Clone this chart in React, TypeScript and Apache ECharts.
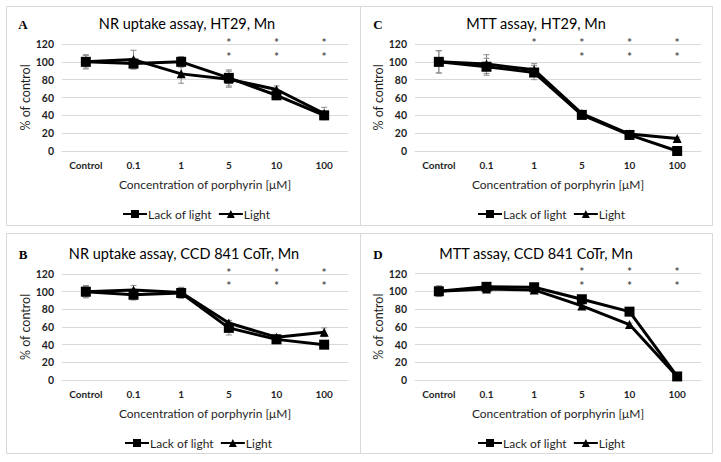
import React, { useEffect, useRef } from "react";
import * as echarts from "echarts";

const categories = ["Control", "0.1", "1", "5", "10", "100"];
const seriesNames = ["Lack of light", "Light"];
const xAxisName = "Concentration of porphyrin [μM]";
const yAxisName = "% of control";
const yTicks = [0, 20, 40, 60, 80, 100, 120];

// Panel A: NR uptake assay, HT29, Mn
const aLack = [100, 98, 100, 82, 62.5, 40];
const aLackErr = [8, 6, 6, 9, 5, 2.5];
const aLight = [100, 102.5, 86.5, 80.5, 69, 42];
const aLightErr = [7, 10.5, 10.5, 9, 4, 7];
const aStarsTop = ["5", "10", "100"];
const aStarsBottom = ["5", "10", "100"];

// Panel C: MTT assay, HT29, Mn
const cLack = [100, 94.5, 88, 40.5, 18, 0];
const cLackErr = [12.5, 9.5, 8, 2, 1, 0.5];
const cLight = [100, 97.5, 91, 42, 19, 14];
const cLightErr = [12.5, 10.5, 7, 2, 1, 1.5];
const cStarsTop = ["1", "5", "10", "100"];
const cStarsBottom = ["5", "10", "100"];

// Panel B: NR uptake assay, CCD 841 CoTr, Mn
const bLack = [100, 96.5, 98.5, 59, 46, 40];
const bLackErr = [7, 6, 6, 8, 4.5, 1];
const bLight = [100, 102, 99, 64.5, 48.5, 54];
const bLightErr = [6, 5, 6, 3, 3, 5];
const bStarsTop = ["5", "10", "100"];
const bStarsBottom = ["5", "10", "100"];

// Panel D: MTT assay, CCD 841 CoTr, Mn
const dLack = [100, 105, 104.5, 91, 77, 4];
const dLackErr = [6, 1.5, 1.5, 2, 4, 1];
const dLight = [100, 102.5, 101.5, 83.5, 62.5, 4];
const dLightErr = [6, 1.5, 1.5, 1, 1.5, 1];
const dStarsTop = ["5", "10", "100"];
const dStarsBottom = ["5", "10", "100"];

const starTopValue = 122;
const starBottomValue = 106.5;

const FONT = 'Lato, "Open Sans", "Noto Sans", sans-serif';
const TEXT = "#1f1f1f";

type Panel = {
  letter: string;
  title: string;
  lack: number[];
  lackErr: number[];
  light: number[];
  lightErr: number[];
  starsTop: string[];
  starsBottom: string[];
  box: [number, number, number, number];
  grid: { left: number; top: number; width: number; height: number };
  titleX: number;
  titleY: number;
  letterX: number;
  legendLeft: number;
  legendTop: number;
};

const panels: Panel[] = [
  {
    letter: "A", title: "NR uptake assay, HT29, Mn",
    lack: aLack, lackErr: aLackErr, light: aLight, lightErr: aLightErr,
    starsTop: aStarsTop, starsBottom: aStarsBottom,
    box: [6, 6, 354, 219],
    grid: { left: 62, top: 44, width: 286, height: 107 },
    titleX: 187, titleY: 23, letterX: 23, legendLeft: 117, legendTop: 203,
  },
  {
    letter: "C", title: "MTT assay, HT29, Mn",
    lack: cLack, lackErr: cLackErr, light: cLight, lightErr: cLightErr,
    starsTop: cStarsTop, starsBottom: cStarsBottom,
    box: [360, 6, 352, 219],
    grid: { left: 415, top: 44, width: 286, height: 107 },
    titleX: 536, titleY: 23, letterX: 378, legendLeft: 472, legendTop: 203,
  },
  {
    letter: "B", title: "NR uptake assay, CCD 841 CoTr, Mn",
    lack: bLack, lackErr: bLackErr, light: bLight, lightErr: bLightErr,
    starsTop: bStarsTop, starsBottom: bStarsBottom,
    box: [6, 233, 354, 220],
    grid: { left: 62, top: 274, width: 286, height: 106 },
    titleX: 184, titleY: 253, letterX: 23, legendLeft: 119, legendTop: 432,
  },
  {
    letter: "D", title: "MTT assay, CCD 841 CoTr, Mn",
    lack: dLack, lackErr: dLackErr, light: dLight, lightErr: dLightErr,
    starsTop: dStarsTop, starsBottom: dStarsBottom,
    box: [360, 233, 352, 220],
    grid: { left: 415, top: 273.5, width: 286, height: 106.5 },
    titleX: 536, titleY: 253, letterX: 378, legendLeft: 472, legendTop: 432,
  },
];

function errorRenderItem(params: any, api: any) {
  const x = api.value(0);
  const lo = api.coord([x, api.value(1)]);
  const hi = api.coord([x, api.value(2)]);
  const half = 3;
  const style = { stroke: "#8c8c8c", lineWidth: 1 };
  return {
    type: "group",
    children: [
      { type: "line", shape: { x1: lo[0], y1: lo[1], x2: hi[0], y2: hi[1] }, style },
      { type: "line", shape: { x1: hi[0] - half, y1: hi[1], x2: hi[0] + half, y2: hi[1] }, style },
      { type: "line", shape: { x1: lo[0] - half, y1: lo[1], x2: lo[0] + half, y2: lo[1] }, style },
    ],
  };
}

function buildOption() {
  const grid: any[] = [];
  const xAxis: any[] = [];
  const yAxis: any[] = [];
  const series: any[] = [];
  const legend: any[] = [];
  const graphic: any[] = [];

  panels.forEach((p, i) => {
    grid.push({ ...p.grid, containLabel: false });
    xAxis.push({
      type: "category",
      gridIndex: i,
      data: categories,
      boundaryGap: true,
      axisLine: { show: true, lineStyle: { color: "#d9d9d9", width: 1 } },
      axisTick: { show: false },
      axisLabel: { fontFamily: FONT, fontSize: 10, fontWeight: "bold", color: TEXT, margin: 9 },
      name: xAxisName,
      nameLocation: "middle",
      nameGap: 27,
      nameTextStyle: { fontFamily: FONT, fontSize: 12, color: TEXT },
      splitLine: { show: false },
    });
    yAxis.push({
      type: "value",
      gridIndex: i,
      min: yTicks[0],
      max: yTicks[yTicks.length - 1],
      interval: 20,
      axisLine: { show: false },
      axisTick: { show: false },
      axisLabel: { fontFamily: FONT, fontSize: 10.5, fontWeight: "bold", color: TEXT, margin: 8 },
      splitLine: { lineStyle: { color: "#d9d9d9", width: 1 } },
      name: yAxisName,
      nameLocation: "middle",
      nameGap: 28,
      nameTextStyle: { fontFamily: FONT, fontSize: 12.5, color: TEXT },
    });

    const errData = (vals: number[], errs: number[]) =>
      vals.map((v, k) => [k, v - errs[k], v + errs[k]]);

    series.push({
      type: "custom",
      name: "err-lack-" + i,
      xAxisIndex: i,
      yAxisIndex: i,
      renderItem: errorRenderItem,
      data: errData(p.lack, p.lackErr),
      encode: { x: 0, y: [1, 2] },
      z: 1,
      silent: true,
    });
    series.push({
      type: "custom",
      name: "err-light-" + i,
      xAxisIndex: i,
      yAxisIndex: i,
      renderItem: errorRenderItem,
      data: errData(p.light, p.lightErr),
      encode: { x: 0, y: [1, 2] },
      z: 1,
      silent: true,
    });
    series.push({
      type: "line",
      name: seriesNames[0],
      xAxisIndex: i,
      yAxisIndex: i,
      data: p.lack,
      symbol: "rect",
      symbolSize: 10,
      lineStyle: { color: "#000", width: 3 },
      itemStyle: { color: "#000" },
      z: 3,
    });
    series.push({
      type: "line",
      name: seriesNames[1],
      xAxisIndex: i,
      yAxisIndex: i,
      data: p.light,
      symbol: "triangle",
      symbolSize: 9,
      lineStyle: { color: "#000", width: 3 },
      itemStyle: { color: "#000" },
      z: 3,
    });
    const starData = [
      ...p.starsTop.map((c) => [c, starTopValue]),
      ...p.starsBottom.map((c) => [c, starBottomValue]),
    ];
    series.push({
      type: "scatter",
      name: "stars-" + i,
      xAxisIndex: i,
      yAxisIndex: i,
      data: starData,
      symbolSize: 6,
      itemStyle: { color: "rgba(0,0,0,0)" },
      clip: false,
      silent: true,
      label: {
        show: true,
        position: "inside",
        formatter: "*",
        fontFamily: FONT,
        fontSize: 12,
        fontWeight: "bold",
        color: "#1a1a1a",
      },
      z: 4,
    });

    legend.push({
      data: seriesNames,
      left: p.legendLeft,
      top: p.legendTop,
      itemWidth: 24,
      itemHeight: 10,
      itemGap: 6,
      textStyle: { fontFamily: FONT, fontSize: 12, color: TEXT, padding: [0, 0, 0, -4] },
      selectedMode: false,
    });

    graphic.push({
      type: "rect",
      shape: { x: p.box[0] + 0.5, y: p.box[1] + 0.5, width: p.box[2], height: p.box[3] },
      style: { fill: "none", stroke: "#d9d9d9", lineWidth: 1 },
      silent: true,
      z: -1,
    });
    graphic.push({
      type: "text",
      x: p.titleX,
      y: p.titleY,
      style: {
        text: p.title,
        fontFamily: FONT,
        fontSize: 14.5,
        fill: "#000",
        align: "center",
        verticalAlign: "middle",
      },
      silent: true,
    });
    graphic.push({
      type: "text",
      x: p.letterX,
      y: p.titleY + 1,
      style: {
        text: p.letter,
        fontFamily: '"Liberation Serif", "DejaVu Serif", serif',
        fontSize: 13,
        fontWeight: "bold",
        fill: "#000",
        align: "center",
        verticalAlign: "middle",
      },
      silent: true,
    });
  });

  return {
    animation: false,
    backgroundColor: "#ffffff",
    grid,
    xAxis,
    yAxis,
    legend,
    series,
    graphic,
  };
}

export default function App() {
  const ref = useRef<HTMLDivElement>(null);
  useEffect(() => {
    if (!ref.current) return;
    const chart = echarts.init(ref.current, undefined, { renderer: "svg" });
    chart.setOption(buildOption() as any);
    return () => chart.dispose();
  }, []);
  return (
    <div
      ref={ref}
      style={{ position: "fixed", left: 0, top: 0, width: 721, height: 462, background: "#fff" }}
    />
  );
}
